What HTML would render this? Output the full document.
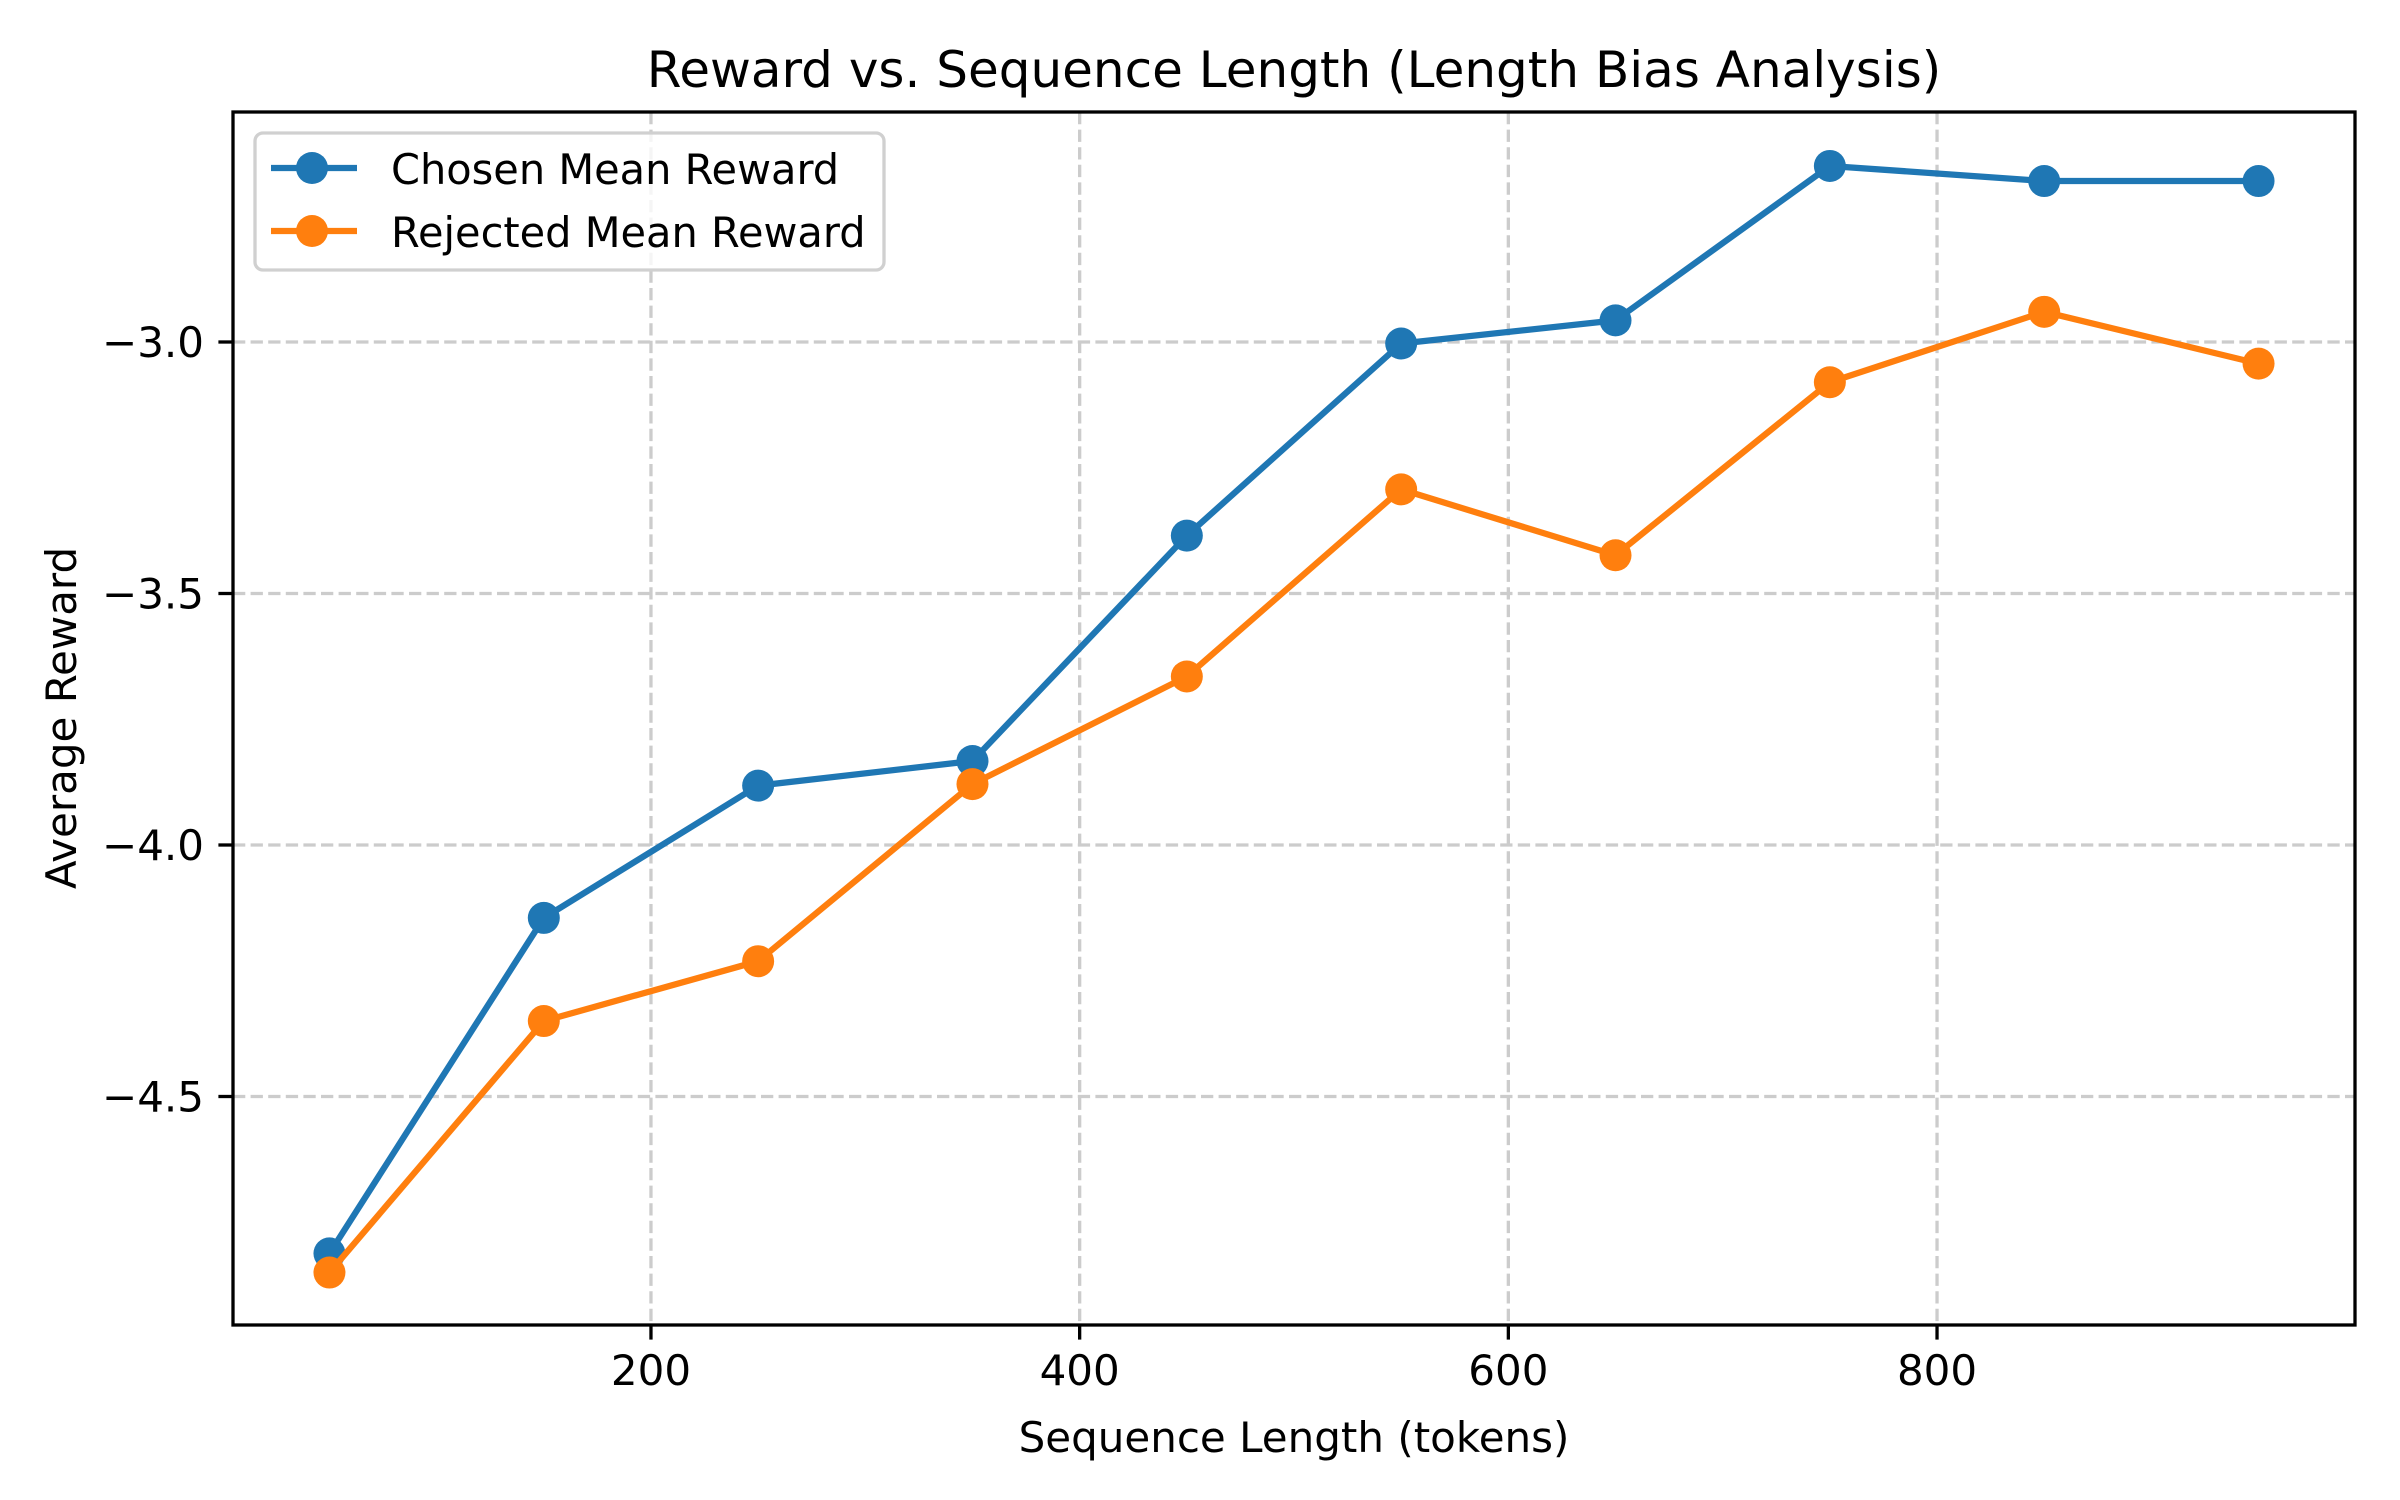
<!DOCTYPE html>
<html><head><meta charset="utf-8">
<style>
html,body{margin:0;padding:0;background:#fff;}
svg{display:block;font-family:"DejaVu Sans","Liberation Sans",sans-serif;}
</style></head>
<body>
<svg id="chart" width="2400" height="1500" viewBox="0 0 2400 1500" xmlns="http://www.w3.org/2000/svg">
<rect x="0" y="0" width="2400" height="1500" fill="#fff"/>
<g id="grid"></g>
<g id="series"></g>
<rect x="233" y="112" width="2122" height="1213" fill="none" stroke="#000" stroke-width="3.3"/>
<g id="xticks"></g>
<g id="yticks"></g>
<text x="1294" y="87" font-size="50" text-anchor="middle">Reward vs. Sequence Length (Length Bias Analysis)</text>
<text x="1294" y="1452" font-size="42" text-anchor="middle">Sequence Length (tokens)</text>
<text x="0" y="0" font-size="42" text-anchor="middle" transform="translate(76,718) rotate(-90)">Average Reward</text>
<g>
<rect x="255" y="133" width="629" height="137" rx="8" fill="#fff" fill-opacity="0.8" stroke="#d0d0d0" stroke-width="3.3"/>
<g>
<line x1="271" y1="168" x2="357" y2="168" stroke="#1f77b4" stroke-width="6.25"/>
<circle cx="312" cy="168" r="16" fill="#1f77b4"/>
<text x="391" y="184" font-size="41.5">Chosen Mean Reward</text>
</g>
<g>
<line x1="271" y1="231" x2="357" y2="231" stroke="#ff7f0e" stroke-width="6.25"/>
<circle cx="312" cy="231" r="16" fill="#ff7f0e"/>
<text x="391" y="247" font-size="41.5">Rejected Mean Reward</text>
</g>
</g>
</svg>
<script>
const lengths = [50,150,250,350,450,550,650,750,850,950];
const chosenReward = [-4.812,-4.145,-3.882,-3.833,-3.385,-3.003,-2.957,-2.650,-2.680,-2.680];
const rejectedReward = [-4.850,-4.350,-4.231,-3.879,-3.665,-3.293,-3.424,-3.080,-2.940,-3.043];
const xTickValues = [200,400,600,800];
const xTickLabels = ["200","400","600","800"];
const yTickValues = [-3.0,-3.5,-4.0,-4.5];
const yTickLabels = ["\u22123.0","\u22123.5","\u22124.0","\u22124.5"];

const NS = "http://www.w3.org/2000/svg";
const L = 233, R = 2355, T = 112, B = 1325;
const xMin = 5, xMax = 995;
const yTop = -3.0 + (342 - T) / 503, yBot = -3.0 - (B - 342) / 503;
function sx(v){ return L + (v - xMin) / (xMax - xMin) * (R - L); }
function sy(v){ return T + (yTop - v) / (yTop - yBot) * (B - T); }
function mk(tag, attrs, parent){
  const e = document.createElementNS(NS, tag);
  for (const k in attrs) e.setAttribute(k, attrs[k]);
  parent.appendChild(e);
  return e;
}
const grid = document.getElementById('grid');
const xt = document.getElementById('xticks');
const yt = document.getElementById('yticks');
const ser = document.getElementById('series');

xTickValues.forEach((v, i) => {
  const x = sx(v);
  const g = mk('line', {x1:x, y1:T, x2:x, y2:B, stroke:'#cccccc', 'stroke-width':3.3, 'stroke-dasharray':'12.3 5.3'}, grid);
  
  
  const t = mk('line', {x1:x, y1:B, x2:x, y2:B + 14.6, stroke:'#000', 'stroke-width':3.3}, xt);
  
  
  const lb = mk('text', {x:x, y:B + 60, 'font-size':42, 'text-anchor':'middle'}, xt);
  lb.textContent = xTickLabels[i];
  
  
});
yTickValues.forEach((v, i) => {
  const y = sy(v);
  const g = mk('line', {x1:L, y1:y, x2:R, y2:y, stroke:'#cccccc', 'stroke-width':3.3, 'stroke-dasharray':'12.3 5.3'}, grid);
  
  
  const t = mk('line', {x1:L - 14.6, y1:y, x2:L, y2:y, stroke:'#000', 'stroke-width':3.3}, yt);
  
  
  const lb = mk('text', {x:L - 29, y:y + 15, 'font-size':42, 'text-anchor':'end'}, yt);
  lb.textContent = yTickLabels[i];
  
  
});

function drawSeries(vals, color, name){
  const g = mk('g', {}, ser);
  
  
  const pts = vals.map((v, i) => sx(lengths[i]) + ',' + sy(v)).join(' ');
  const pl = mk('polyline', {points:pts, fill:'none', stroke:color, 'stroke-width':6.25, 'stroke-linejoin':'round', 'stroke-linecap':'square'}, g);
  
  
  vals.forEach((v, i) => {
    const c = mk('circle', {cx:sx(lengths[i]), cy:sy(v), r:16, fill:color}, g);
    
    
  });
}
drawSeries(chosenReward, '#1f77b4', 'chosen-series');
drawSeries(rejectedReward, '#ff7f0e', 'rejected-series');
</script>
</body></html>
